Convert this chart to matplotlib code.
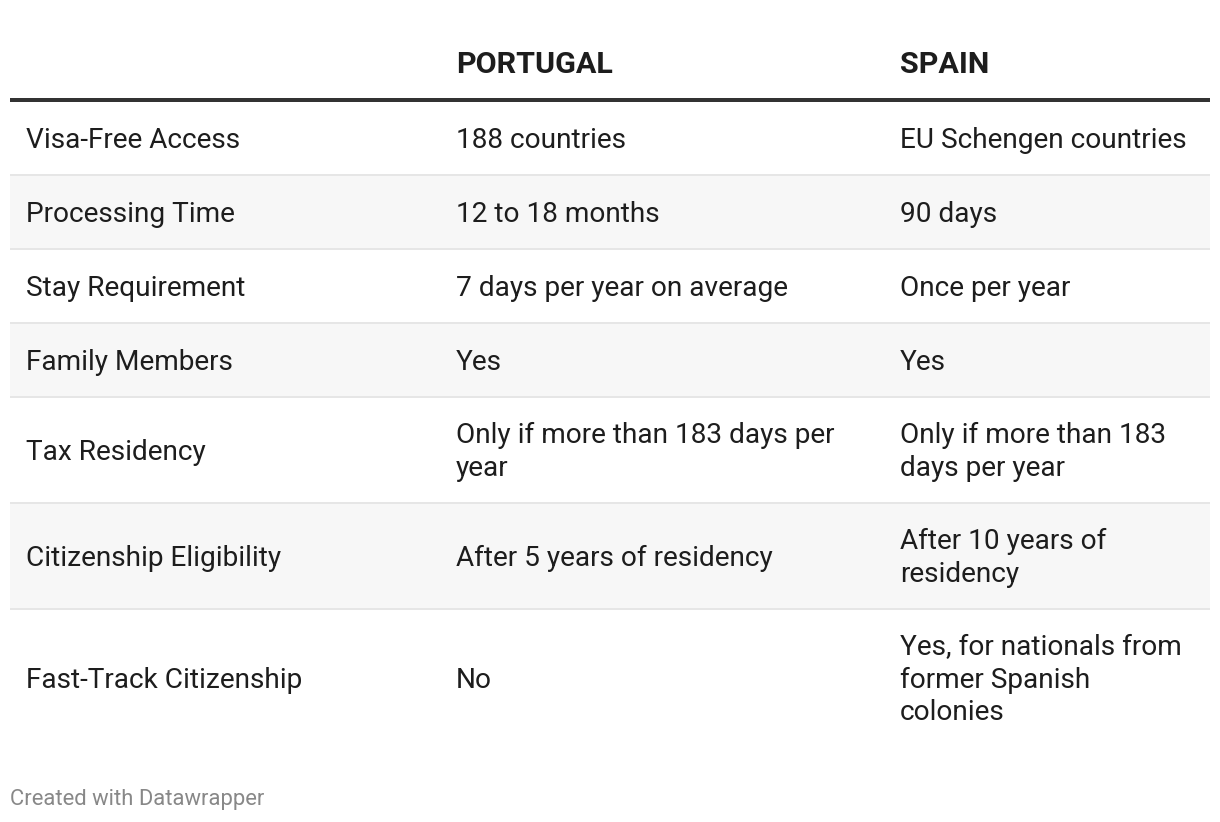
import matplotlib
matplotlib.use("Agg")
import matplotlib.pyplot as plt
from matplotlib.patches import Rectangle

plt.rcParams['font.family'] = ['Roboto', 'DejaVu Sans']

# table content
headers = ["", "PORTUGAL", "SPAIN"]
features = ["Visa-Free Access", "Processing Time", "Stay Requirement",
            "Family Members", "Tax Residency", "Citizenship Eligibility",
            "Fast-Track Citizenship"]
portugal = ["188 countries", "12 to 18 months", "7 days per year on average",
            "Yes", "Only if more than 183 days per\nyear",
            "After 5 years of residency", "No"]
spain = ["EU Schengen countries", "90 days", "Once per year", "Yes",
         "Only if more than 183\ndays per year",
         "After 10 years of\nresidency",
         "Yes, for nationals from\nformer Spanish\ncolonies"]
footer = "Created with Datawrapper"

W, H = 1220, 822
fig = plt.figure(figsize=(W / 100, H / 100), dpi=100)
ax = fig.add_axes([0, 0, 1, 1])
ax.set_xlim(0, W)
ax.set_ylim(H, 0)
ax.axis('off')

col_x = [26, 456, 900]
left, right = 10, 1210
text_col = '#1d1d1d'
px = 0.72  # pixel -> points

# header
for x, h in zip(col_x, headers):
    ax.text(x, 65, h, fontsize=30.5 * px, fontweight='bold', color=text_col,
            va='center', ha='left')
ax.plot([left, right], [100, 100], color='#333333', lw=4 * px,
        solid_capstyle='butt')

# body rows
y = 101
for i, row in enumerate(zip(features, portugal, spain)):
    nlines = max(s.count('\n') + 1 for s in row)
    h = 74 + 32 * (nlines - 1)
    if i % 2 == 1:
        ax.add_patch(Rectangle((left, y), right - left, h, color='#f7f7f7',
                               lw=0, zorder=0))
    for x, s in zip(col_x, row):
        ax.text(x, y + h / 2 + 2, s, fontsize=28 * px, color=text_col,
                va='center', ha='left', linespacing=1.25)
    y += h
    if i < len(features) - 1:
        ax.plot([left, right], [y, y], color='#e6e6e6', lw=2 * px,
                solid_capstyle='butt')

ax.text(10, 799, footer, fontsize=22 * px, color='#888888',
        va='center', ha='left')

fig.savefig('out.png', dpi=100, facecolor='white')
